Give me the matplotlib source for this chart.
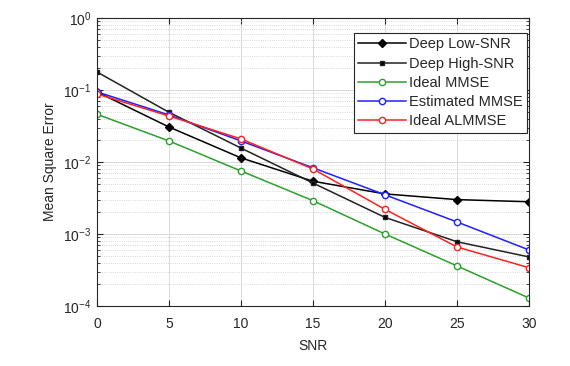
import matplotlib
matplotlib.use("Agg")
import matplotlib.pyplot as plt
from matplotlib.ticker import LogLocator, NullFormatter

snr = [0, 5, 10, 15, 20, 25, 30]
deep_low = [0.094, 0.0306, 0.0114, 0.0054, 0.0036, 0.0030, 0.0028]
deep_high = [0.178, 0.049, 0.0156, 0.0051, 0.0017, 0.00078, 0.00048]
ideal_mmse = [0.046, 0.0196, 0.0075, 0.0029, 0.0010, 0.00036, 0.000129]
est_mmse = [0.094, 0.045, 0.0196, 0.0083, 0.0035, 0.00147, 0.0006]
ideal_almmse = [0.088, 0.0435, 0.0209, 0.0080, 0.0022, 0.00066, 0.00034]
labels = ["Deep Low-SNR", "Deep High-SNR", "Ideal MMSE", "Estimated MMSE", "Ideal ALMMSE"]

plt.rcParams['font.family'] = ['Liberation Sans', 'DejaVu Sans']
txt = '#262626'

fig = plt.figure(figsize=(5.7, 3.66), dpi=100)
ax = fig.add_axes([0.170, 0.164, 0.758, 0.787])

ax.semilogy(snr, deep_low, color='black', marker='D', ms=4.5, mfc='black', lw=1.1, label=labels[0])
ax.semilogy(snr, deep_high, color='#222222', marker='s', ms=3.2, mfc='black', lw=1.1, label=labels[1])
ax.semilogy(snr, ideal_mmse, color='#2ca02c', marker='o', ms=4.5, mfc='white', mew=1.0, lw=1.1, label=labels[2])
ax.semilogy(snr, est_mmse, color='#1f1fff', marker='o', ms=4.5, mfc='white', mew=1.0, lw=1.1, label=labels[3])
ax.semilogy(snr, ideal_almmse, color='#ff2020', marker='o', ms=4.5, mfc='white', mew=1.0, lw=1.1, label=labels[4])

ax.set_xlim(0, 30)
ax.set_ylim(1e-4, 1)
ax.set_xticks([0, 5, 10, 15, 20, 25, 30])
ax.yaxis.set_major_locator(LogLocator(base=10, numticks=10))
ax.yaxis.set_minor_locator(LogLocator(base=10, subs=range(2, 10), numticks=50))
ax.yaxis.set_minor_formatter(NullFormatter())

ax.grid(True, which='major', color='#d9d9d9', lw=0.7, ls='-')
ax.grid(True, which='minor', axis='y', color='#cccccc', lw=0.6, ls=':')
ax.set_axisbelow(True)

ax.tick_params(which='both', direction='in', top=True, right=True, colors=txt, labelsize=10)
ax.tick_params(which='major', length=4, pad=4)
ax.tick_params(axis='x', which='major', pad=8)
ax.tick_params(which='minor', length=2)
for s in ax.spines.values():
    s.set_color(txt)
    s.set_linewidth(0.8)

ax.set_xlabel('SNR', fontsize=10, color=txt, labelpad=6)
ax.set_ylabel('Mean Square Error', fontsize=10, color=txt, labelpad=4)

leg = ax.legend(loc='upper right', bbox_to_anchor=(527 / 570, 1 - 33 / 366),
                bbox_transform=fig.transFigure, borderaxespad=0,
                fontsize=10.5, frameon=True, fancybox=False,
                edgecolor=txt, framealpha=1, borderpad=0.3, labelspacing=0.36,
                handlelength=3.3, handletextpad=0.2)
leg.get_frame().set_linewidth(0.8)
for t in leg.get_texts():
    t.set_color(txt)

fig.savefig('out.png', dpi=100)
